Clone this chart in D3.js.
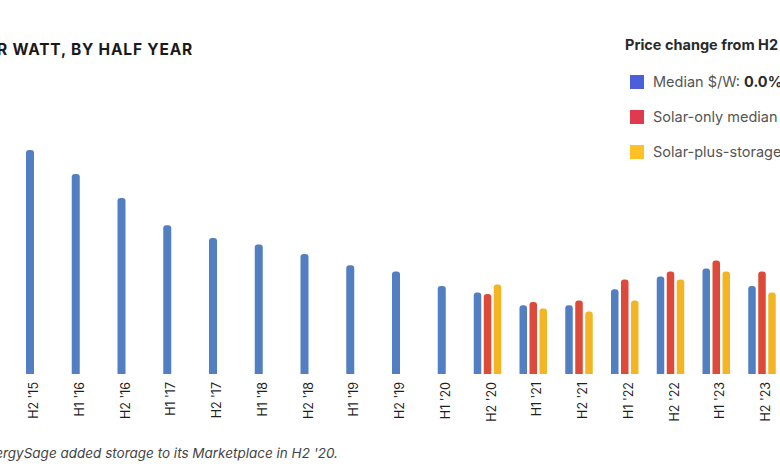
<!DOCTYPE html>
<html>
<head>
<meta charset="utf-8">
<script src="https://cdn.jsdelivr.net/npm/d3@7"></script>
<style>
  body { margin: 0; background: #fff; }
  svg { display: block; font-family: "Inter", "Open Sans", sans-serif; }
</style>
</head>
<body>
<svg id="canvas"></svg>
<script>
const periods = ["H2 '15", "H1 '16", "H2 '16", "H1 '17", "H2 '17", "H1 '18", "H2 '18", "H1 '19",
    "H2 '19", "H1 '20", "H2 '20", "H1 '21", "H2 '21", "H1 '22", "H2 '22", "H1 '23", "H2 '23"];

// median $/W, all quotes
const medianAll = [3.70, 3.55, 3.40, 3.23, 3.15, 3.11, 3.05, 2.98, 2.94, 2.85,
    2.81, 2.73, 2.73, 2.83, 2.91, 2.96, 2.85];

// storage split starts in H2 '20
const solarOnly = [null, null, null, null, null, null, null, null, null, null,
    2.80, 2.75, 2.76, 2.89, 2.94, 3.01, 2.94];
const solarPlusStorage = [null, null, null, null, null, null, null, null, null, null,
    2.86, 2.71, 2.69, 2.76, 2.89, 2.94, 2.81];

const legendItems = ["Median $/W: ", "Solar-only median $/W", "Solar-plus-storage median $/W"];
const legendValues = ["0.0%", "", ""];

const barColors = ["#527fc2", "#de4a3a", "#f3b524"];
const legendColors = ["#4a5fd8", "#e03a4e", "#ffc125"];

const width = 780;
const height = 470;
const baseline = 374;

const svg = d3.select("#canvas")
    .attr("width", width)
    .attr("height", height);

const x = d3.scalePoint()
    .domain(periods)
    .range([30, 762]);

const y = d3.scaleLinear()
    .domain([2.30, 3.70])
    .range([baseline, 150]);

const series = [medianAll, solarOnly, solarPlusStorage];

const bars = [];
periods.forEach((p, i) => {
    const grouped = solarOnly[i] !== null;
    series.forEach((s, k) => {
        if (s[i] === null) return;
        bars.push({
            period: p,
            value: s[i],
            color: barColors[k],
            offset: grouped ? (k - 1) * 10 : 0,
            w: grouped ? 7.5 : 8
        });
    });
});

svg.append("g")
    .selectAll("rect")
    .data(bars)
    .enter()
    .append("rect")
    .attr("x", d => x(d.period) + d.offset - d.w / 2)
    .attr("y", d => y(d.value))
    .attr("width", d => d.w)
    .attr("height", d => baseline - y(d.value) + 3)
    .attr("rx", 3)
    .style("fill", d => d.color);

// clip the bar bottoms at the baseline
svg.append("rect")
    .attr("x", 0)
    .attr("y", baseline)
    .attr("width", width)
    .attr("height", 6)
    .style("fill", "#fff");

const xAxis = svg.append("g")
    .attr("transform", "translate(3," + baseline + ")")
    .call(d3.axisBottom(x).tickSize(0).tickPadding(0));

xAxis.select(".domain").remove();
xAxis.selectAll("text")
    .attr("transform", "translate(0,8) rotate(-90)")
    .attr("x", 0)
    .attr("y", 0)
    .attr("dy", "0.36em")
    .style("text-anchor", "end")
    .style("font-size", "12.5px")
    .style("font-family", "Inter, sans-serif")
    .style("fill", "#1f1f1f");

svg.append("text")
    .attr("x", 193)
    .attr("y", 55)
    .style("text-anchor", "end")
    .style("font-size", "15.5px")
    .style("font-weight", "700")
    .style("letter-spacing", "0.8px")
    .style("fill", "#1a1a1a")
    .text("MEDIAN PRICE PER WATT, BY HALF YEAR");

svg.append("text")
    .attr("x", 338)
    .attr("y", 458)
    .style("text-anchor", "end")
    .style("font-size", "13.5px")
    .style("font-style", "italic")
    .style("fill", "#444")
    .text("*EnergySage added storage to its Marketplace in H2 '20.");

const legend = svg.append("g");

legend.append("text")
    .attr("x", 625)
    .attr("y", 50)
    .style("font-size", "14.5px")
    .style("font-weight", "700")
    .style("fill", "#2a2a2a")
    .text("Price change from H2 '22 to H2 '23");

legendItems.forEach((label, i) => {
    const yy = 75 + i * 35;
    legend.append("rect")
        .attr("x", 630)
        .attr("y", yy)
        .attr("width", 14)
        .attr("height", 14)
        .style("fill", legendColors[i]);
    const t = legend.append("text")
        .attr("x", 653)
        .attr("y", yy + 12)
        .style("font-size", "14.5px")
        .style("fill", "#555");
    t.append("tspan").text(label);
    if (legendValues[i]) {
        t.append("tspan")
            .style("font-weight", "700")
            .style("fill", "#2a2a2a")
            .text(legendValues[i]);
    }
});
</script>
</body>
</html>
